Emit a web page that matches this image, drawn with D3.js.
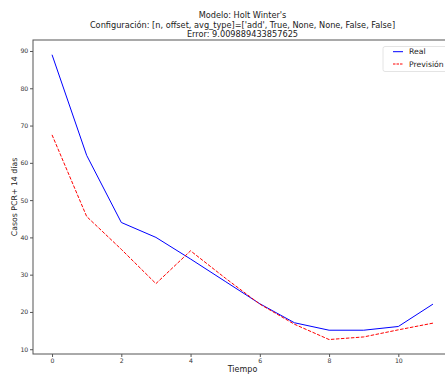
<html>
<head>
<script src="https://d3js.org/d3.v7.min.js"></script>
<style>
  body { margin: 0; background: #fff; }
  text { font-family: "DejaVu Sans", sans-serif; fill: #222; }
  .axis .domain { stroke: #555; }
  .axis line { stroke: #555; }
  .axis text { font-size: 6.2px; fill: #333; }
</style>
</head>
<body>
<svg id="chart" width="445" height="374"></svg>
<script>
const titleLines = ["Modelo: Holt Winter's",
  "Configuración: [n, offset, avg_type]=['add', True, None, None, False, False]",
  "Error: 9.009889433857625"];
const tiempo = [0, 1, 2, 3, 4, 5, 6, 7, 8, 9, 10, 11];
const real = [89, 62, 44, 40, 34.2, 28.2, 22.2, 17.1, 15.1, 15.1, 16.1, 22.1];
const prevision = [67.5, 45.6, 36.8, 27.6, 36.4, 29.1, 22.1, 16.7, 12.6, 13.3, 15.2, 17];
const xTicks = [0, 2, 4, 6, 8, 10];
const yTicks = [10, 20, 30, 40, 50, 60, 70, 80, 90];
const seriesNames = ["Real", "Previsión"];

const svg = d3.select("#chart");
const m = {left: 33, right: 452, top: 40, bottom: 354};

const x = d3.scaleLinear().domain([-0.55, 11.55]).range([m.left, m.right]);
const y = d3.scaleLinear().domain([8.72, 92.95]).range([m.bottom, m.top]);

// title
svg.append("g").selectAll("text").data(titleLines).join("text")
  .attr("x", (m.left + m.right) / 2)
  .attr("y", (d, i) => 18 + i * 9.6)
  .attr("text-anchor", "middle")
  .style("font-size", "8.2px")
  .text(d => d);

// frame
svg.append("rect")
  .attr("x", m.left).attr("y", m.top)
  .attr("width", m.right - m.left).attr("height", m.bottom - m.top)
  .attr("fill", "none").attr("stroke", "#555").attr("stroke-width", 1);

const xAxis = svg.append("g").attr("class", "axis")
  .attr("transform", "translate(0," + m.bottom + ")")
  .call(d3.axisBottom(x).tickValues(xTicks).tickSize(3).tickPadding(1.5).tickSizeOuter(0));
xAxis.select(".domain").remove();

const yAxis = svg.append("g").attr("class", "axis")
  .attr("transform", "translate(" + m.left + ",0)")
  .call(d3.axisLeft(y).tickValues(yTicks).tickSize(3).tickPadding(1.7).tickSizeOuter(0));
yAxis.select(".domain").remove();

// axis labels
svg.append("text")
  .attr("x", (m.left + m.right) / 2).attr("y", 372)
  .attr("text-anchor", "middle")
  .style("font-size", "8px")
  .text("Tiempo");
svg.append("text")
  .attr("transform", "translate(16.5," + ((m.top + m.bottom) / 2) + ") rotate(-90)")
  .attr("text-anchor", "middle")
  .style("font-size", "7.8px")
  .text("Casos PCR+ 14 días");

// lines
const line = d3.line().x((d, i) => x(tiempo[i])).y(d => y(d));
svg.append("path").datum(real)
  .attr("d", line).attr("fill", "none")
  .attr("stroke", "#0000ff").attr("stroke-width", 1);
svg.append("path").datum(prevision)
  .attr("d", line).attr("fill", "none")
  .attr("stroke", "#ff0000").attr("stroke-width", 1)
  .attr("stroke-dasharray", "3.5,1.5");

// legend
const legend = svg.append("g").attr("transform", "translate(383,46.5)");
legend.append("rect")
  .attr("width", 80).attr("height", 25).attr("rx", 2)
  .attr("fill", "#fff").attr("stroke", "#ddd").attr("stroke-width", 0.8);
const items = legend.selectAll("g").data(seriesNames).join("g")
  .attr("transform", (d, i) => "translate(0," + (5.2 + i * 12.3) + ")");
items.append("line")
  .attr("x1", 10).attr("x2", 20)
  .attr("stroke", (d, i) => i === 0 ? "#0000ff" : "#ff0000")
  .attr("stroke-width", 1)
  .attr("stroke-dasharray", (d, i) => i === 0 ? null : "2.5,1");
items.append("text")
  .attr("x", 26).attr("dy", "0.35em")
  .style("font-size", "7.7px")
  .text(d => d);
</script>
</body>
</html>
